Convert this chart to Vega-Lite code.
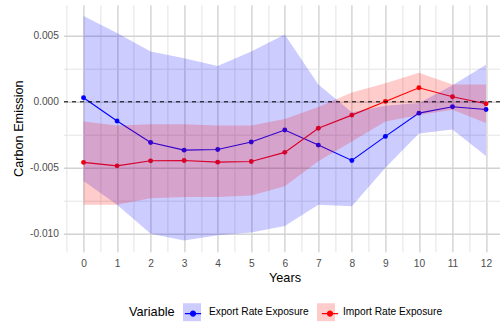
{
  "$schema": "https://vega.github.io/schema/vega-lite/v6.json",
  "width": 436.6,
  "height": 247,
  "autosize": {"type": "none"},
  "padding": {"left": 63.4, "top": 4.7, "right": 0, "bottom": 74.3},
  "background": "white",
  "config": {
    "font": "Liberation Sans",
    "view": {"stroke": null},
    "axis": {
      "domain": false,
      "ticks": false,
      "labelColor": "#4d4d4d",
      "labelFontSize": 10.2,
      "titleFontSize": 12.7,
      "titleFontWeight": "normal",
      "titleColor": "black",
      "labelFont": "Liberation Sans",
      "titleFont": "Liberation Sans"
    },
    "legend": {
      "labelFont": "Liberation Sans",
      "titleFont": "Liberation Sans",
      "labelFontSize": 10.2,
      "titleFontSize": 12.7,
      "titleFontWeight": "normal",
      "labelColor": "black",
      "titleColor": "black"
    }
  },
  "data": {
    "values": [
      {"year": 0, "variable": "Export Rate Exposure", "estimate": 0.0003, "lower": -0.0060, "upper": 0.0065},
      {"year": 1, "variable": "Export Rate Exposure", "estimate": -0.00146, "lower": -0.0078, "upper": 0.0052},
      {"year": 2, "variable": "Export Rate Exposure", "estimate": -0.00308, "lower": -0.0100, "upper": 0.0038},
      {"year": 3, "variable": "Export Rate Exposure", "estimate": -0.00366, "lower": -0.0105, "upper": 0.0033},
      {"year": 4, "variable": "Export Rate Exposure", "estimate": -0.00361, "lower": -0.0101, "upper": 0.0027},
      {"year": 5, "variable": "Export Rate Exposure", "estimate": -0.00305, "lower": -0.0099, "upper": 0.0038},
      {"year": 6, "variable": "Export Rate Exposure", "estimate": -0.00214, "lower": -0.0094, "upper": 0.0051},
      {"year": 7, "variable": "Export Rate Exposure", "estimate": -0.00328, "lower": -0.0078, "upper": 0.0013},
      {"year": 8, "variable": "Export Rate Exposure", "estimate": -0.00444, "lower": -0.0079, "upper": -0.0008},
      {"year": 9, "variable": "Export Rate Exposure", "estimate": -0.00262, "lower": -0.0050, "upper": -0.0003},
      {"year": 10, "variable": "Export Rate Exposure", "estimate": -0.00086, "lower": -0.0024, "upper": -0.0001},
      {"year": 11, "variable": "Export Rate Exposure", "estimate": -0.00038, "lower": -0.0021, "upper": 0.00126},
      {"year": 12, "variable": "Export Rate Exposure", "estimate": -0.00058, "lower": -0.0041, "upper": 0.0028},
      {"year": 0, "variable": "Import Rate Exposure", "estimate": -0.00459, "lower": -0.0078, "upper": -0.0015},
      {"year": 1, "variable": "Import Rate Exposure", "estimate": -0.00485, "lower": -0.0078, "upper": -0.0018},
      {"year": 2, "variable": "Import Rate Exposure", "estimate": -0.00447, "lower": -0.0073, "upper": -0.0017},
      {"year": 3, "variable": "Import Rate Exposure", "estimate": -0.00444, "lower": -0.0072, "upper": -0.0017},
      {"year": 4, "variable": "Import Rate Exposure", "estimate": -0.00457, "lower": -0.0072, "upper": -0.0018},
      {"year": 5, "variable": "Import Rate Exposure", "estimate": -0.00452, "lower": -0.0071, "upper": -0.0018},
      {"year": 6, "variable": "Import Rate Exposure", "estimate": -0.00383, "lower": -0.0064, "upper": -0.0013},
      {"year": 7, "variable": "Import Rate Exposure", "estimate": -0.00200, "lower": -0.0045, "upper": -0.0004},
      {"year": 8, "variable": "Import Rate Exposure", "estimate": -0.00101, "lower": -0.0030, "upper": 0.0007},
      {"year": 9, "variable": "Import Rate Exposure", "estimate": 0.00003, "lower": -0.0015, "upper": 0.0014},
      {"year": 10, "variable": "Import Rate Exposure", "estimate": 0.00106, "lower": -0.0010, "upper": 0.0022},
      {"year": 11, "variable": "Import Rate Exposure", "estimate": 0.00038, "lower": -0.0006, "upper": 0.0013},
      {"year": 12, "variable": "Import Rate Exposure", "estimate": -0.00015, "lower": -0.0016, "upper": 0.0013}
    ]
  },
  "layer": [
    {
      "encoding": {
        "x": {
          "field": "year",
          "type": "quantitative",
          "scale": {"domain": [-0.6, 12.417], "nice": false, "zero": false},
          "axis": {
            "title": "Years",
            "titleX": 221.1,
            "values": [-0.5, 0, 0.5, 1, 1.5, 2, 2.5, 3, 3.5, 4, 4.5, 5, 5.5, 6, 6.5, 7, 7.5, 8, 8.5, 9, 9.5, 10, 10.5, 11, 11.5, 12],
            "labelExpr": "datum.value % 1 === 0 ? format(datum.value, 'd') : ''",
            "labelPadding": 7,
            "titlePadding": 3,
            "gridColor": {"condition": {"test": "datum.value % 1 !== 0", "value": "#e4e4e4"}, "value": "#d2d2d2"},
            "gridWidth": {"condition": {"test": "datum.value % 1 !== 0", "value": 1}, "value": 1.4}
          }
        },
        "y": {
          "type": "quantitative",
          "scale": {"domain": [-0.01135, 0.00735], "nice": false, "zero": false},
          "axis": {
            "title": "Carbon Emission",
            "values": [-0.01, -0.0075, -0.005, -0.0025, 0, 0.0025, 0.005],
            "labelExpr": "abs(datum.value * 200 - round(datum.value * 200)) > 0.01 ? '' : (datum.value < -0.000001 ? '-' + format(-datum.value, '.3f') : format(abs(datum.value), '.3f'))",
            "labelPadding": 5,
            "titlePadding": 4,
            "gridColor": {"condition": {"test": "abs(datum.value * 200 - round(datum.value * 200)) > 0.01", "value": "#e4e4e4"}, "value": "#d2d2d2"},
            "gridWidth": {"condition": {"test": "abs(datum.value * 200 - round(datum.value * 200)) > 0.01", "value": 1}, "value": 1.4}
          }
        }
      },
      "layer": [
        {
          "mark": {"type": "line", "strokeWidth": 1.1},
          "encoding": {
            "y": {"field": "estimate", "type": "quantitative"},
            "color": {
              "field": "variable",
              "type": "nominal",
              "scale": {"domain": ["Export Rate Exposure", "Import Rate Exposure"], "range": ["#0000ff", "#ff0000"]},
              "legend": {
                "orient": "none",
                "legendX": 65.6,
                "legendY": 298.5,
                "direction": "horizontal",
                "title": "Variable",
                "titleOrient": "left",
                "titleColor": "transparent",
                "labelColor": "transparent",
                "symbolType": "M-0.9,0H0.9M-0.28,0A0.28,0.28,0,1,1,0.28,0A0.28,0.28,0,1,1,-0.28,0Z",
                "symbolSize": 324,
                "symbolStrokeWidth": 1.2,
                "labelOffset": 8,
                "columnPadding": 8,
                "titlePadding": 8,
                "zindex": 2,
                "encode": {"symbols": {"update": {"fill": {"scale": "color", "field": "value"}, "stroke": {"scale": "color", "field": "value"}, "opacity": {"value": 1}}}}
              }
            }
          }
        },
        {
          "mark": {"type": "point", "filled": true, "size": 24, "opacity": 1},
          "encoding": {
            "y": {"field": "estimate", "type": "quantitative"},
            "color": {"field": "variable", "type": "nominal"}
          }
        },
        {
          "mark": {"type": "area", "opacity": 0.2},
          "encoding": {
            "y": {"field": "lower", "type": "quantitative"},
            "y2": {"field": "upper"},
            "fill": {
              "field": "variable",
              "type": "nominal",
              "scale": {"range": ["#0000ff", "#ff0000"]},
              "legend": {
                "orient": "none",
                "legendX": 65.6,
                "legendY": 298.5,
                "direction": "horizontal",
                "title": "Variable",
                "titleOrient": "left",
                "symbolType": "square",
                "symbolSize": 324,
                "symbolOpacity": 0.2,
                "symbolStrokeWidth": 0,
                "labelOffset": 8,
                "columnPadding": 8,
                "titlePadding": 8,
                "zindex": 1
              }
            }
          }
        }
      ]
    },
    {
      "data": {"values": [{"ref": 0}]},
      "mark": {"type": "rule", "color": "black", "strokeDash": [4, 4], "strokeWidth": 1},
      "encoding": {"y": {"field": "ref", "type": "quantitative"}}
    }
  ]
}
